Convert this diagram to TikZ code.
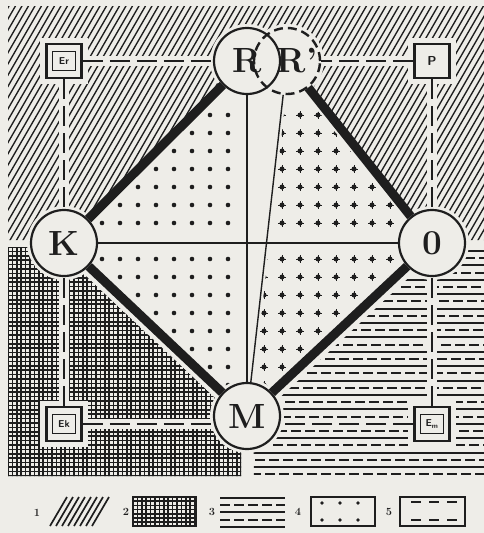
\documentclass[tikz,border=0pt]{standalone}
\usetikzlibrary{calc}
\pgfdeclarelayer{pat}
\pgfdeclarelayer{halo}
\pgfdeclarelayer{edges}
\pgfsetlayers{pat,halo,edges,main}
\definecolor{paper}{HTML}{EEEDE8}
\definecolor{ink}{HTML}{1E1E1E}
\tikzset{
  bignode/.style={circle, minimum size=66pt, inner sep=0pt, fill=paper, draw=ink, line width=2.2pt, font=\bfseries\fontsize{35}{35}\selectfont, text=ink},
  rpnode/.style={bignode, draw=none},
  rptext/.style={inner sep=0pt, font=\bfseries\fontsize{35}{35}\selectfont, text=ink},
  rpdash/.style={draw=ink, line width=2.4pt, dash pattern=on 9pt off 5pt},
  boxout/.style={rectangle, minimum width=35pt, minimum height=34pt, inner sep=0pt, fill=paper, draw=ink, line width=2.6pt},
  boxin/.style={rectangle, minimum width=23pt, minimum height=19pt, inner sep=0pt, draw=ink, line width=1pt, font=\sffamily\bfseries\fontsize{10}{10}\selectfont, text=ink},
  boxtxt/.style={font=\sffamily\bfseries\fontsize{13}{13}\selectfont, text=ink, inner sep=0pt},
  conn/.style={draw=ink, line width=2.4pt, dash pattern=on 20pt off 7pt},
  halo/.style={draw=paper, line width=10pt},
  thickedge/.style={draw=ink, line width=9pt},
  thinedge/.style={draw=ink, line width=1.9pt},
  hatchln/.style={draw=ink, line width=1.35pt},
  gridln/.style={draw=ink, line width=1.7pt},
  solidln/.style={draw=ink, line width=2pt},
  dashln/.style={draw=ink, line width=2pt, dash pattern=on 10pt off 4pt},
  legnum/.style={font=\bfseries\fontsize{11}{11}\selectfont, text=ink, inner sep=0pt},
}
\begin{document}
\begin{tikzpicture}[x=1pt,y=-1pt]
\useasboundingbox (0,0) rectangle (484,533);

% ---------- main nodes ----------
\node[rpnode] (Rp) at (287,61) {};
\node[bignode] (R) at (247,61) {R};
\draw[rpdash] (Rp.center) circle [radius=33pt];
\node[rptext] (Rpt) at (297,61) {R’};
\node[bignode] (K) at (64,243) {K};
\node[bignode] (O) at (432,243) {0};
\node[bignode] (M) at (247,416) {M};

\node[boxout] (Er) at (64,61) {};
\node[boxin] (Ert) at (Er) {Er};
\node[boxout] (P) at (432,61) {};
\node[boxtxt] (Pt) at (P) {P};
\node[boxout] (Ek) at (64,424) {};
\node[boxin] (Ekt) at (Ek) {Ek};
\node[boxout] (Em) at (432,424) {};
\node[boxin] (Emt) at (Em) {E\textsubscript{m}};

% ---------- connectors ----------
\begin{pgfonlayer}{edges}
  \draw[thickedge] (K) -- (R);
  \draw[thickedge] (K) -- (M);
  \draw[thickedge] (M) -- (O);
  \draw[thickedge] (Rp) -- (O);
  \draw[thinedge] (K) -- (O);
  \draw[thinedge] (R) -- (M);
  \draw[thinedge, line width=1.4pt] (Rp) -- (M);
  \draw[conn] (Er) -- (R);
  \draw[conn] (Er) -- (K);
  \draw[conn] (P) -- (Rp);
  \draw[conn] (P) -- (O);
  \draw[conn] (Ek) -- (K);
  \draw[conn] (Ek) -- (Ek -| M);
  \draw[conn] (Em) -- (O);
  \draw[conn] (Em) -- (Em -| M);
\end{pgfonlayer}

% ---------- halos ----------
\begin{pgfonlayer}{halo}
  \foreach \n in {R,Rp,K,O,M} \fill[paper] (\n.center) circle [radius=37pt];
  \foreach \n in {Er,P,Ek,Em} \fill[paper] ($(\n.south west)+(-5,5)$) rectangle ($(\n.north east)+(5,-5)$);
  \draw[halo] (Er.center) -- (R.center);
  \draw[halo] (Er.center) -- (K.center);
  \draw[halo] (P.center) -- (Rp.center);
  \draw[halo] (P.center) -- (O.center);
  \draw[halo] (Ek.center) -- (K.center);
  \draw[halo] (Ek.center) -- (Ek -| M);
  \draw[halo] (Em.center) -- (O.center);
  \draw[halo] (Em.center) -- (Em -| M);
\end{pgfonlayer}

% ---------- area patterns ----------
\begin{pgfonlayer}{pat}
  \fill[paper] (0,0) rectangle (484,533);
  % 1: hatching
  \begin{scope}
    \clip (8,6) -- (484,6) -- (484,240) -- (431,240) -- (287,61) -- (247,61) -- (67,240) -- (8,240) -- cycle;
    \foreach \i in {0,...,100} \draw[hatchln] ({\i*6.5-140},241) -- ++(140,-242);
  \end{scope}
  % 2: grid
  \begin{scope}
    \clip (8,247) -- (55,247) -- (241,422.5) -- (241,476) -- (8,476) -- cycle;
    \foreach \i in {0,...,53} \draw[gridln] ({8+\i*4.4},245) -- ++(0,235);
    \foreach \j in {0,...,53} \draw[gridln] (6,{247+\j*4.4}) -- ++(240,0);
  \end{scope}
  % 3: lines
  \begin{scope}
    \clip (439,249.6) -- (484,249.6) -- (484,476) -- (254,476) -- (253,422.6) -- cycle;
    \foreach \j in {0,2,...,30} \draw[solidln] (250,{251+\j*7.2}) -- ++(240,0);
    \foreach \j in {1,3,...,31} \draw[dashln] ({236+mod(\j*5,14)},{251+\j*7.2}) -- ++(260,0);
  \end{scope}
  % 4: dots, left half
  \begin{scope}
    \clip (74,243) -- (243,75) -- (243,402.6) -- cycle;
    \foreach \i in {3,...,14}
      \foreach \y in {115,133,151,169,187,205,223,259,277,295,313,331,349,367,385,403}
        \fill[ink] ({12+18*\i},\y) circle [radius=2.3pt];
  \end{scope}
  % dots with crosses, right half
  \begin{scope}
    \clip (288.5,74.2) -- (423.4,242.3) -- (251.6,402.1) -- cycle;
    \foreach \i in {13,...,24}
      \foreach \y in {115,133,151,169,187,205,223,259,277,295,313,331,349,367,385,403} {
        \fill[ink] ({12+18*\i},\y) circle [radius=2.5pt];
        \draw[ink, line width=1pt] ({12+18*\i-3.8},\y) -- ++(7.6,0) ({12+18*\i},\y-3.8) -- ++(0,7.6);
      }
  \end{scope}
\end{pgfonlayer}

% ---------- legend ----------
\node[legnum] (n1) at (37,513) {1};
\foreach \i in {0,...,7} \draw[hatchln, line width=1.7pt] ({50+\i*6},526) -- ++(17,-29);
\node[legnum] (n2) at (126,512) {2};
\begin{scope}
  \clip (133,497) rectangle (196,526);
  \foreach \i in {0,...,15} \draw[gridln] ({133+\i*4.4},497) -- ++(0,30);
  \foreach \j in {0,...,7} \draw[gridln] (133,{497+\j*4.2}) -- ++(64,0);
\end{scope}
\draw[ink, line width=1.4pt] (133,497) rectangle (196,526);
\node[legnum] (n3) at (212,512) {3};
\draw[solidln] (220,498) -- (285,498);
\draw[dashln] (220,505) -- (285,505);
\draw[solidln] (220,512) -- (285,512);
\draw[dashln] (220,519.5) -- (285,519.5);
\draw[solidln] (220,527) -- (285,527);
\node[legnum] (n4) at (298,512) {4};
\draw[ink, line width=1.5pt] (311,497) rectangle (375,526);
\foreach \x in {322,340,358} {
  \fill[ink] (\x,503) circle [radius=1.8pt];
  \fill[ink] (\x,520) circle [radius=1.8pt];
}
\node[legnum] (n5) at (389,512) {5};
\draw[ink, line width=1.5pt] (400,497) rectangle (465,526);
\foreach \x in {411,429,447} {
  \draw[ink, line width=1.8pt] (\x,502) -- ++(10,0);
  \draw[ink, line width=1.8pt] (\x,520) -- ++(10,0);
}
\end{tikzpicture}
\end{document}
